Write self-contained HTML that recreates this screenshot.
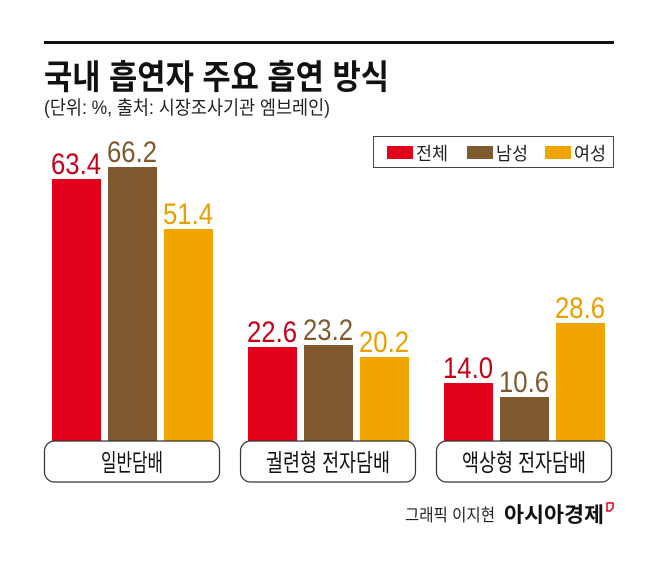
<!DOCTYPE html>
<html><head><meta charset="utf-8"><style>
body{margin:0;background:#fff;width:658px;height:566px;overflow:hidden}
svg{display:block}
text{font-family:"Liberation Sans","Noto Sans CJK KR",sans-serif}
</style></head><body>
<svg width="658" height="566" viewBox="0 0 658 566">
<rect x="44" y="41" width="570" height="3" fill="#111"/>
<text x="44" y="89" font-size="34" font-weight="bold" fill="#111" textLength="345" lengthAdjust="spacingAndGlyphs">국내 흡연자 주요 흡연 방식</text>
<text x="44" y="114" font-size="19" fill="#222" textLength="286" lengthAdjust="spacingAndGlyphs">(단위: %, 출처: 시장조사기관 엠브레인)</text>
<rect x="373.5" y="136.5" width="240" height="31" fill="#fff" stroke="#444" stroke-width="1"/>
<rect x="387" y="146" width="26" height="13" fill="#e2001a"/>
<text x="416" y="160" font-size="18" fill="#222" textLength="32" lengthAdjust="spacingAndGlyphs">전체</text>
<rect x="467" y="146" width="26" height="13" fill="#7f5a2e"/>
<text x="496" y="160" font-size="18" fill="#222" textLength="32" lengthAdjust="spacingAndGlyphs">남성</text>
<rect x="545" y="146" width="26" height="13" fill="#f0a500"/>
<text x="574" y="160" font-size="18" fill="#222" textLength="32" lengthAdjust="spacingAndGlyphs">여성</text>
<g>
<rect x="52" y="179" width="49" height="262" fill="#e2001a"/>
<rect x="108" y="167" width="49" height="274" fill="#7f5a2e"/>
<rect x="164" y="229" width="49" height="212" fill="#f0a500"/>
<rect x="248" y="347" width="49" height="94" fill="#e2001a"/>
<rect x="304" y="345" width="49" height="96" fill="#7f5a2e"/>
<rect x="360" y="357" width="49" height="84" fill="#f0a500"/>
<rect x="444" y="383" width="49" height="58" fill="#e2001a"/>
<rect x="500" y="397" width="49" height="44" fill="#7f5a2e"/>
<rect x="556" y="323" width="49" height="118" fill="#f0a500"/>
</g>
<g font-size="30" text-anchor="middle">
<text x="76" y="174" fill="#c4001a" textLength="50" lengthAdjust="spacingAndGlyphs">63.4</text>
<text x="132" y="162" fill="#7f5a2e" textLength="50" lengthAdjust="spacingAndGlyphs">66.2</text>
<text x="188" y="224" fill="#e8a000" textLength="50" lengthAdjust="spacingAndGlyphs">51.4</text>
<text x="272" y="342" fill="#c4001a" textLength="50" lengthAdjust="spacingAndGlyphs">22.6</text>
<text x="328" y="340" fill="#7f5a2e" textLength="50" lengthAdjust="spacingAndGlyphs">23.2</text>
<text x="384" y="352" fill="#e8a000" textLength="50" lengthAdjust="spacingAndGlyphs">20.2</text>
<text x="468" y="378" fill="#c4001a" textLength="50" lengthAdjust="spacingAndGlyphs">14.0</text>
<text x="524" y="392" fill="#7f5a2e" textLength="50" lengthAdjust="spacingAndGlyphs">10.6</text>
<text x="580" y="318" fill="#e8a000" textLength="50" lengthAdjust="spacingAndGlyphs">28.6</text>
</g>
<rect x="44.5" y="441" width="175" height="41" rx="10" fill="#fff" stroke="#333" stroke-width="1.2"/>
<rect x="240.5" y="441" width="175" height="41" rx="10" fill="#fff" stroke="#333" stroke-width="1.2"/>
<rect x="436.5" y="441" width="175" height="41" rx="10" fill="#fff" stroke="#333" stroke-width="1.2"/>
<g font-size="24" fill="#111" text-anchor="middle">
<text x="132" y="471" textLength="62" lengthAdjust="spacingAndGlyphs">일반담배</text>
<text x="328" y="471" textLength="124" lengthAdjust="spacingAndGlyphs">궐련형 전자담배</text>
<text x="524" y="471" textLength="124" lengthAdjust="spacingAndGlyphs">액상형 전자담배</text>
</g>
<text x="405" y="521" font-size="17" fill="#222" textLength="90" lengthAdjust="spacingAndGlyphs">그래픽 이지현</text>
<text x="504" y="522" font-size="21" font-weight="bold" fill="#111" textLength="100" lengthAdjust="spacingAndGlyphs">아시아경제</text>
<path d="M607 503 h6 v5 l-3 3 h-3z" fill="none" stroke="#e2001a" stroke-width="1.5"/>
</svg>
</body></html>
